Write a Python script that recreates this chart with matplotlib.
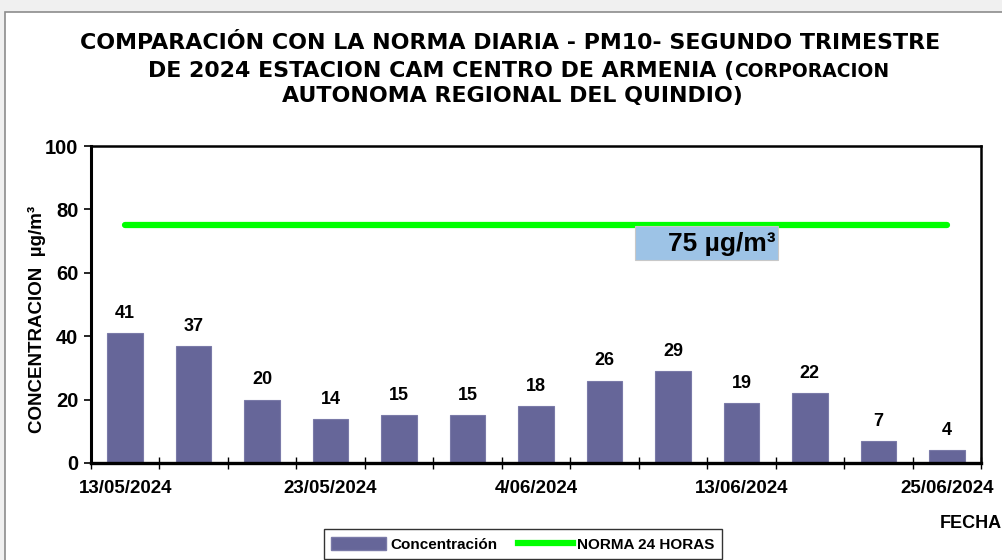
import matplotlib
matplotlib.use("Agg")
import matplotlib.pyplot as plt
from matplotlib.patches import Rectangle
from matplotlib.lines import Line2D
from matplotlib.patches import Patch

# data
fechas = ["13/05/2024", "17/05/2024", "20/05/2024", "23/05/2024", "27/05/2024",
          "31/05/2024", "4/06/2024", "7/06/2024", "10/06/2024", "13/06/2024",
          "17/06/2024", "21/06/2024", "25/06/2024"]
concentracion = [41, 37, 20, 14, 15, 15, 18, 26, 29, 19, 22, 7, 4]
norma = 75
yticks = [0, 20, 40, 60, 80, 100]

plt.rcParams['font.family'] = ['Liberation Sans', 'DejaVu Sans']
plt.rcParams['font.weight'] = 'bold'

fig = plt.figure(figsize=(10.02, 5.6), dpi=100)
fig.patch.set_facecolor('#f0f0f0')

# white chart area with a grey border
bg = Rectangle((5 / 1002, -0.05), 1.1, 1 - 12 / 560 + 0.05,
               transform=fig.transFigure, facecolor='white',
               edgecolor='#8c8c8c', linewidth=1.2, zorder=-10)
fig.patches.append(bg)

ax = fig.add_axes([91 / 1002, 1 - 463 / 560, 890 / 1002, 317 / 560])
n = len(concentracion)
x = list(range(n))

ax.bar(x, concentracion, width=0.52, color='#666699', edgecolor='#7a7aa8',
       linewidth=0.8, zorder=2)
ax.plot([x[0], x[-1]], [norma, norma], color='#00ff00', linewidth=4.5,
        solid_capstyle='round', zorder=3)

for xi, v in zip(x, concentracion):
    ax.annotate(f"{v}", (xi, v), xytext=(0, 8), textcoords='offset points',
                ha='center', va='bottom', fontsize=13, fontweight='bold')

# norma label box
ax.add_patch(Rectangle((7.446, 64.0), 2.09, 10.8, facecolor='#9dc3e6',
                       edgecolor='#c8c8c8', linewidth=0.8, zorder=4))
ax.text(9.5, 69.2, "75 µg/m³", ha='right', va='center', fontsize=19,
        fontweight='bold', zorder=5)

ax.set_xlim(-0.5, n - 0.5)
ax.set_ylim(0, 100)
ax.set_yticks(yticks)
ax.tick_params(axis='y', direction='out', length=5, width=1.2, labelsize=14.5, pad=4)

ax.set_xticks([i - 0.5 for i in range(n + 1)])
ax.set_xticklabels([])
ax.tick_params(axis='x', which='major', direction='inout', length=8, width=1.0)
ax.set_xticks(x[::3], minor=True)
ax.set_xticklabels(fechas[::3], minor=True)
ax.tick_params(axis='x', which='minor', length=0, labelsize=13.5, pad=12)

for s in ax.spines.values():
    s.set_linewidth(1.8)
ax.spines['bottom'].set_linewidth(2.4)
ax.spines['left'].set_linewidth(2.2)

ax.set_ylabel("CONCENTRACION  µg/m³", fontsize=13.5, fontweight='bold')
ax.yaxis.set_label_coords(-0.05, 0.454)

fig.text(940 / 1002, 1 - 523 / 560, "FECHA", fontsize=13, fontweight='bold',
         ha='left', va='center')

# title, three lines, second line mixes two sizes
tfont = ['DejaVu Sans']
fig.text(0.509, 1 - 43 / 560, "COMPARACIÓN CON LA NORMA DIARIA - PM10- SEGUNDO TRIMESTRE",
         family=tfont, fontsize=15.9, fontweight='bold', ha='center', va='center')
fig.text(0.511, 1 - 96 / 560, "AUTONOMA REGIONAL DEL QUINDIO)",
         family=tfont, fontsize=15.9, fontweight='bold', ha='center', va='center')
t2a = fig.text(148 / 1002, 1 - 77 / 560, "DE 2024 ESTACION CAM CENTRO DE ARMENIA (",
               family=tfont, fontsize=15.9, fontweight='bold', ha='left', va='baseline')
fig.canvas.draw()
bb = t2a.get_window_extent()
fig.text(bb.x1 / fig.bbox.width, 1 - 77 / 560, "CORPORACION",
         family=tfont, fontsize=13.5, fontweight='bold', ha='left', va='baseline')

handles = [Patch(facecolor='#666699', edgecolor='#7a7aa8'),
           Line2D([0], [0], color='#00ff00', linewidth=4.5)]
leg = fig.legend(handles, ["Concentración", "NORMA 24 HORAS"], loc='upper center',
                 bbox_to_anchor=(523 / 1002, 1 - 529 / 560), borderaxespad=0,
                 ncol=2, frameon=True, fancybox=False, edgecolor='black',
                 prop={'weight': 'bold', 'size': 11}, handlelength=3.6,
                 handleheight=1.0, handletextpad=0.3, columnspacing=1.3,
                 borderpad=0.5)
leg.get_frame().set_linewidth(1.0)

fig.savefig("out.png", dpi=100, facecolor=fig.get_facecolor())
